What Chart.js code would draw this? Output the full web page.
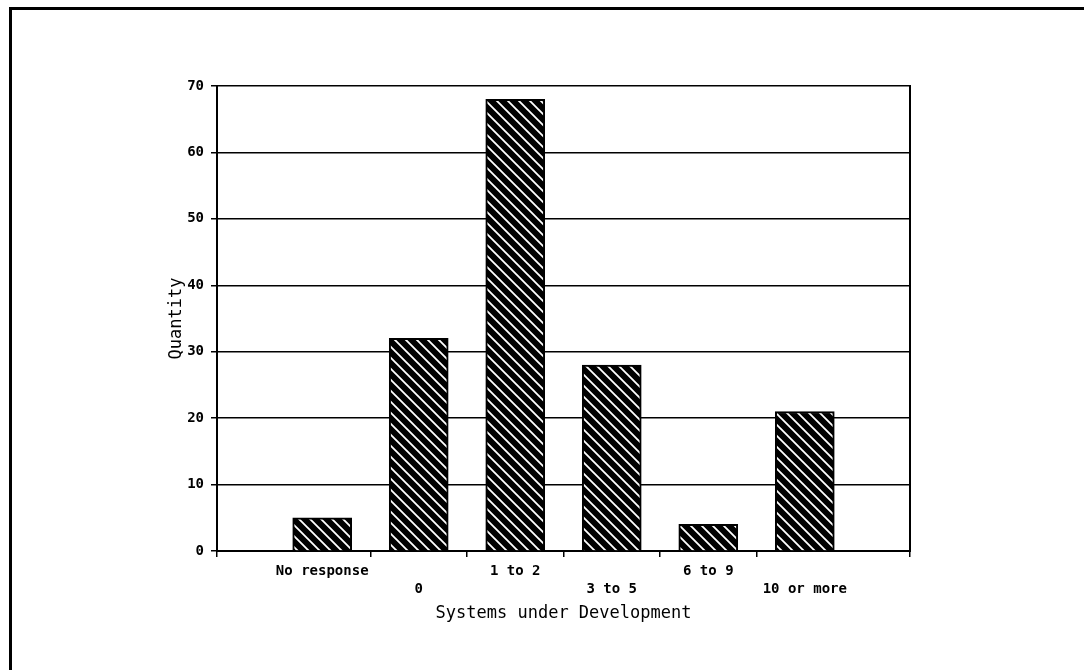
<!DOCTYPE html>
<html>
<head>
<meta charset="utf-8">
<script src="https://cdn.jsdelivr.net/npm/chart.js@4.4.1/dist/chart.umd.min.js"></script>
<style>
  html, body { margin: 0; padding: 0; background: #fff; }
  #wrap { position: relative; width: 1084px; height: 670px; overflow: hidden; }
  #frame { position: absolute; left: 9px; top: 7px; width: 1200px; height: 800px;
           border-top: 3px solid #000; border-left: 3px solid #000; }
  canvas { position: absolute; left: 0; top: 0; }
</style>
</head>
<body>
<div id="wrap">
  <div id="frame"></div>
  <canvas id="chart" width="1084" height="670"></canvas>
</div>
<script>
// Survey responses: number of systems under development
const categories = ['No response', '0', '1 to 2', '3 to 5', '6 to 9', '10 or more'];
const quantities = [5, 32, 68, 28, 4, 21];
const yTicks = [0, 10, 20, 30, 40, 50, 60, 70];

const MONO = "'DejaVu Sans Mono', 'Liberation Mono', monospace";
const X_MIN = -1.09, X_MAX = categories.length - 1 + 1.09;

/** Black fill with white "\" stripes, like the old printer hatch. */
function hatch() {
    const s = 11;
    const c = document.createElement('canvas');
    c.width = s; c.height = s;
    const g = c.getContext('2d');
    g.fillStyle = '#000';
    g.fillRect(0, 0, s, s);
    g.strokeStyle = '#fff';
    g.lineWidth = 1.8;
    g.beginPath();
    g.moveTo(-2, -2); g.lineTo(s + 2, s + 2);
    g.moveTo(-2, s - 2); g.lineTo(2, s + 2);
    g.moveTo(s - 2, -2); g.lineTo(s + 2, 2);
    g.stroke();
    return g.createPattern(c, 'repeat');
}

const ctx = document.getElementById('chart').getContext('2d');

new Chart(ctx, {
    type: 'bar',
    data: {
        datasets: [{
            data: quantities.map((v, i) => ({ x: i, y: v })),
            backgroundColor: hatch(),
            borderColor: '#000',
            borderWidth: 2,
            barThickness: 59,
            xAxisID: 'x',
            yAxisID: 'y'
        }]
    },
    options: {
        responsive: false,
        animation: false,
        events: [],
        layout: { padding: { left: 166, top: 86, right: 174, bottom: 46 } },
        plugins: { legend: { display: false }, tooltip: { enabled: false } },
        scales: {
            x: {
                type: 'linear',
                position: 'bottom',
                weight: 0,
                offset: false,
                min: X_MIN, max: X_MAX,
                afterBuildTicks(scale) {
                    const t = [{ value: X_MIN }];
                    for (let i = 0; i < categories.length - 1; i++) t.push({ value: i + 0.5 });
                    t.push({ value: X_MAX });
                    scale.ticks = t;
                },
                afterFit(scale) { scale.height = 0; },
                ticks: { callback: () => '' },
                grid: { offset: false, drawOnChartArea: false, color: '#000', lineWidth: 1.5, tickLength: 6 },
                border: { display: true, color: '#000', width: 2 }
            },
            xl: {
                type: 'linear',
                position: 'bottom',
                weight: 1,
                offset: false,
                min: X_MIN, max: X_MAX,
                afterBuildTicks(scale) {
                    scale.ticks = categories.map((_, i) => ({ value: i }));
                },
                afterFit(scale) { scale.height = 73; },
                ticks: {
                    autoSkip: false,
                    maxRotation: 0,
                    padding: 4,
                    color: '#000',
                    font: { family: MONO, size: 14, weight: 'bold', lineHeight: 1.25 },
                    callback: (v) => {
                        const i = Math.round(v);
                        return i % 2 === 0 ? [categories[i]] : ['', categories[i]];
                    }
                },
                grid: { display: false, offset: false },
                border: { display: false },
                title: {
                    display: true,
                    text: 'Systems under Development',
                    color: '#000',
                    padding: { top: 0, bottom: 0 },
                    font: { family: MONO, size: 17 }
                }
            },
            y: {
                min: 0, max: 70,
                z: 1,
                afterBuildTicks(scale) { scale.ticks = yTicks.map(v => ({ value: v })); },
                afterFit(scale) { scale.width = 51; },
                ticks: {
                    padding: 7,
                    color: '#000',
                    font: { family: MONO, size: 14, weight: 'bold' }
                },
                grid: { color: '#000', lineWidth: 1.5, tickLength: 6 },
                border: { display: true, color: '#000', width: 2 },
                title: {
                    display: true,
                    text: 'Quantity',
                    color: '#000',
                    padding: { top: 0, bottom: 0 },
                    font: { family: MONO, size: 17 }
                }
            },
            yr: {
                position: 'right',
                min: 0, max: 70,
                afterFit(scale) { scale.width = 0; },
                ticks: { display: false },
                grid: { drawOnChartArea: false, drawTicks: false },
                border: { display: true, color: '#000', width: 2 }
            }
        }
    }
});
</script>
</body>
</html>
